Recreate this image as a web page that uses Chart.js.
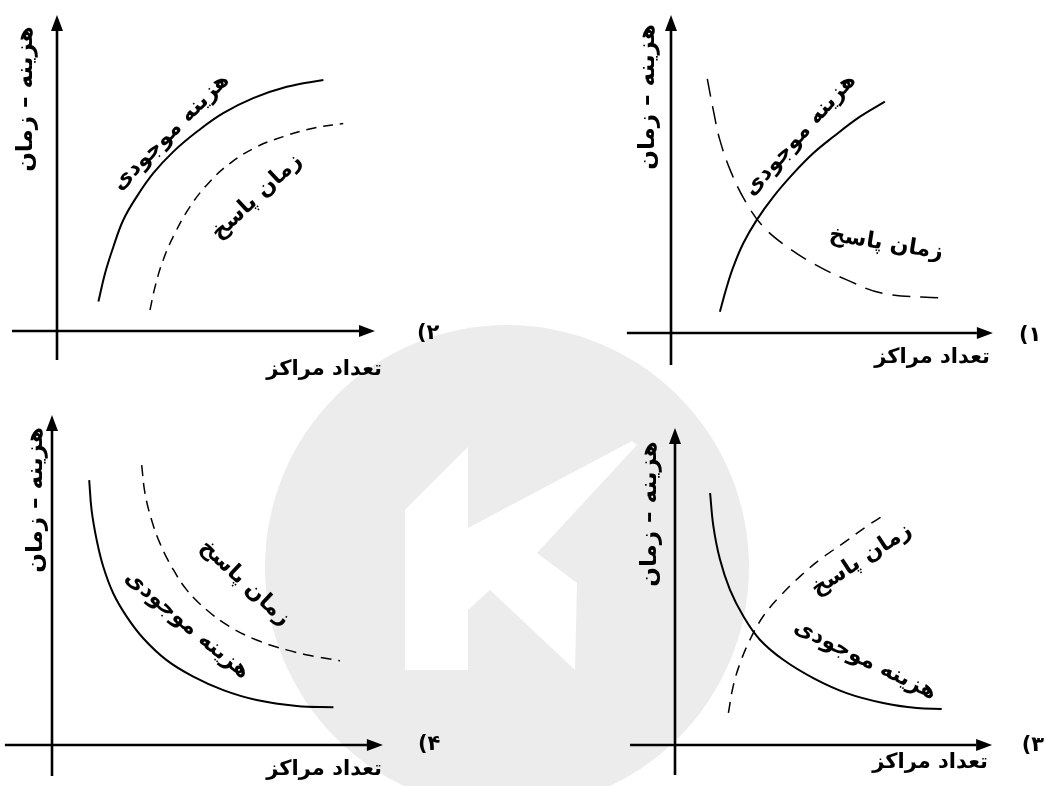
<!DOCTYPE html>
<html>
<head>
<meta charset="utf-8">
<script src="https://cdn.jsdelivr.net/npm/chart.js@4"></script>
<style>
html, body { margin: 0; padding: 0; background: #fff; }
#chart { display: block; }
</style>
</head>
<body>
<canvas id="chart" width="1046" height="786"></canvas>
<script>
//---------------------------------------------
// DATA  (units along each panel's axes, 0,0 = where the axes cross)
//---------------------------------------------
// panel 1 : cost rises, response time falls
var cost1 = [[1.63,0.71],[1.86,1.54],[2.08,2.21],[2.41,2.99],[2.86,3.77],[3.41,4.54],[4.08,5.32],[4.74,5.99],[5.41,6.54],[6.3,7.21],[7.13,7.71]];
var resp1 = [[1.21,8.47],[1.41,7.43],[1.63,6.43],[2.02,5.32],[2.52,4.32],[3.08,3.54],[3.86,2.88],[4.74,2.32],[5.86,1.77],[7.08,1.32],[9.08,1.16]];
// panel 2 : both rise
var cost2 = [[1.38,0.98],[1.6,1.92],[1.88,2.81],[2.21,3.7],[2.66,4.48],[3.21,5.26],[3.88,5.98],[4.66,6.64],[5.54,7.26],[6.54,7.76],[7.66,8.14],[8.88,8.37]];
var resp2 = [[3.1,0.7],[3.27,1.48],[3.54,2.37],[3.93,3.26],[4.43,4.14],[5.04,4.92],[5.77,5.59],[6.66,6.14],[7.54,6.48],[8.54,6.76],[9.54,6.92]];
// panel 3 : cost falls, response time rises
var cost3 = [[1.17,8.4],[1.28,7.29],[1.5,6.18],[1.83,5.18],[2.28,4.29],[2.83,3.51],[3.61,2.84],[4.61,2.23],[5.72,1.73],[6.94,1.4],[8.06,1.23],[8.89,1.2]];
var resp3 = [[1.78,1.07],[1.94,1.96],[2.17,2.73],[2.5,3.51],[2.94,4.29],[3.5,4.96],[4.17,5.62],[4.83,6.18],[5.61,6.73],[6.39,7.29],[7.0,7.68]];
// panel 4 : both fall
var cost4 = [[1.24,8.83],[1.32,7.83],[1.49,6.83],[1.71,5.94],[2.04,5.06],[2.49,4.28],[3.04,3.56],[3.82,2.83],[4.71,2.28],[5.71,1.83],[6.82,1.5],[8.16,1.3],[9.38,1.26]];
var resp4 = [[2.99,9.33],[3.1,8.39],[3.32,7.5],[3.6,6.72],[3.99,5.94],[4.49,5.17],[5.16,4.5],[5.93,3.94],[6.82,3.5],[7.82,3.17],[8.82,2.94],[9.6,2.81]];

var panelNums = ['۱)', '۲)', '۳)', '۴)'];
var yTitle = 'هزینه – زمان';
var xTitle = 'تعداد مراکز';
var costLabel = 'هزینه موجودی';
var respLabel = 'زمان پاسخ';

//---------------------------------------------
// LAYOUT
//---------------------------------------------
var W = 1046, H = 786, UNIT = 30;
// pixel where the two axes of each panel cross (panel 1..4)
var origins = [[671,333],[57,331],[675,745],[52,745]];
// axis extents in units [from, to]
var axisX = [[-1.47,10.73],[-1.5,10.6],[-1.5,10.57],[-1.57,11.03]];
var axisY = [[-1.07,10.6],[-0.97,10.53],[-1.0,10.57],[-1.03,11.0]];
// curve labels [x, y, angle]
var costPos = [[4.3,6.6,-48],[3.8,6.63,-45],[6.33,2.83,26],[4.5,4.0,40]];
var respPos = [[7.17,2.97,9],[6.66,4.47,-43],[6.22,6.17,-33],[6.43,5.4,43]];
var yTitlePos = [[-0.77,7.87],[-1.03,7.73],[-0.83,7.7],[-0.52,8.17]];
var xTitlePos = [[10.63,-0.83],[10.83,-1.27],[10.43,-0.6],[11.0,-0.83]];
var numPos = [[11.97,-0.1],[12.37,-0.07],[11.93,-0.03],[12.57,0]];
var dashes = [[18,10],[10,7],[11,8],[11,7]];

var FONT = 'bold 21px "DejaVu Sans"';
var TITLE_FONT = 'bold 23px "DejaVu Sans"';
var LABEL_FONT = 'bold 22px "DejaVu Sans"';

function toXY(arr) {
     return arr.map(function(p) { return {x: p[0], y: p[1]}; });
}

var scales = {};
origins.forEach(function(o, i) {
     scales['x' + i] = {type: 'linear', display: false, min: -o[0] / UNIT, max: (W - o[0]) / UNIT};
     scales['y' + i] = {type: 'linear', display: false, min: -(H - o[1]) / UNIT, max: o[1] / UNIT};
});

var costs = [cost1, cost2, cost3, cost4];
var resps = [resp1, resp2, resp3, resp4];
var datasets = [];
for (var i = 0; i < 4; i++) {
     datasets.push({
          label: costLabel + ' ' + (i + 1),
          data: toXY(costs[i]),
          xAxisID: 'x' + i, yAxisID: 'y' + i,
          borderColor: '#000', borderWidth: 2,
          pointRadius: 0, fill: false,
          tension: 0.4
     });
     datasets.push({
          label: respLabel + ' ' + (i + 1),
          data: toXY(resps[i]),
          xAxisID: 'x' + i, yAxisID: 'y' + i,
          borderColor: '#000', borderWidth: 1.5,
          borderDash: dashes[i],
          pointRadius: 0, fill: false,
          tension: 0.4
     });
}

function arrow(ctx, x0, y0, x1, y1) {
     var a = Math.atan2(y1 - y0, x1 - x0), len = 16, half = 6;
     var bx = x1 - len * Math.cos(a), by = y1 - len * Math.sin(a);
     ctx.beginPath();
     ctx.moveTo(x0, y0);
     ctx.lineTo(bx, by);
     ctx.lineWidth = 2.6;
     ctx.strokeStyle = '#000';
     ctx.stroke();
     ctx.beginPath();
     ctx.moveTo(x1, y1);
     ctx.lineTo(bx - half * Math.sin(a), by + half * Math.cos(a));
     ctx.lineTo(bx + half * Math.sin(a), by - half * Math.cos(a));
     ctx.closePath();
     ctx.fillStyle = '#000';
     ctx.fill();
}

function text(ctx, s, x, y, angle, align, font) {
     ctx.save();
     ctx.translate(x, y);
     ctx.rotate(angle * Math.PI / 180);
     ctx.font = font || FONT;
     ctx.direction = 'rtl';
     ctx.textAlign = align || 'center';
     ctx.textBaseline = 'middle';
     ctx.fillStyle = '#000';
     ctx.fillText(s, 0, 0);
     ctx.restore();
}

// background logo + axes + texts
var decor = {
     id: 'decor',
     beforeDraw: function(chart) {
          var ctx = chart.ctx;
          ctx.save();
          ctx.fillStyle = '#ececec';
          ctx.beginPath();
          ctx.arc(507, 567, 242, 0, Math.PI * 2);
          ctx.fill();
          var k = [[405,510],[468,447],[468,528],[632,441],[637,445],[537,553],[577,583],[575,670],[490,590],[468,610],[468,670],[405,670]];
          ctx.fillStyle = '#fff';
          ctx.beginPath();
          k.forEach(function(p, j) { j ? ctx.lineTo(p[0], p[1]) : ctx.moveTo(p[0], p[1]); });
          ctx.closePath();
          ctx.fill();
          ctx.restore();
     },
     afterDatasetsDraw: function(chart) {
          var ctx = chart.ctx;
          for (var p = 0; p < 4; p++) {
               var sx = chart.scales['x' + p], sy = chart.scales['y' + p];
               var X = function(v) { return sx.getPixelForValue(v); };
               var Y = function(v) { return sy.getPixelForValue(v); };
               arrow(ctx, X(axisX[p][0]), Y(0), X(axisX[p][1]), Y(0));
               arrow(ctx, X(0), Y(axisY[p][0]), X(0), Y(axisY[p][1]));
               text(ctx, yTitle, X(yTitlePos[p][0]), Y(yTitlePos[p][1]), -90, 'center', TITLE_FONT);
               text(ctx, xTitle, X(xTitlePos[p][0]), Y(xTitlePos[p][1]), 0, 'right');
               text(ctx, panelNums[p], X(numPos[p][0]), Y(numPos[p][1]), 0);
               text(ctx, costLabel, X(costPos[p][0]), Y(costPos[p][1]), costPos[p][2], 'center', LABEL_FONT);
               text(ctx, respLabel, X(respPos[p][0]), Y(respPos[p][1]), respPos[p][2], 'center', LABEL_FONT);
          }
     }
};

var chart = new Chart(document.getElementById('chart').getContext('2d'), {
     type: 'line',
     data: { datasets: datasets },
     options: {
          responsive: false,
          animation: false,
          layout: { padding: 0 },
          plugins: { legend: { display: false }, tooltip: { enabled: false } },
          scales: scales
     },
     plugins: [decor]
});
</script>
</body>
</html>
